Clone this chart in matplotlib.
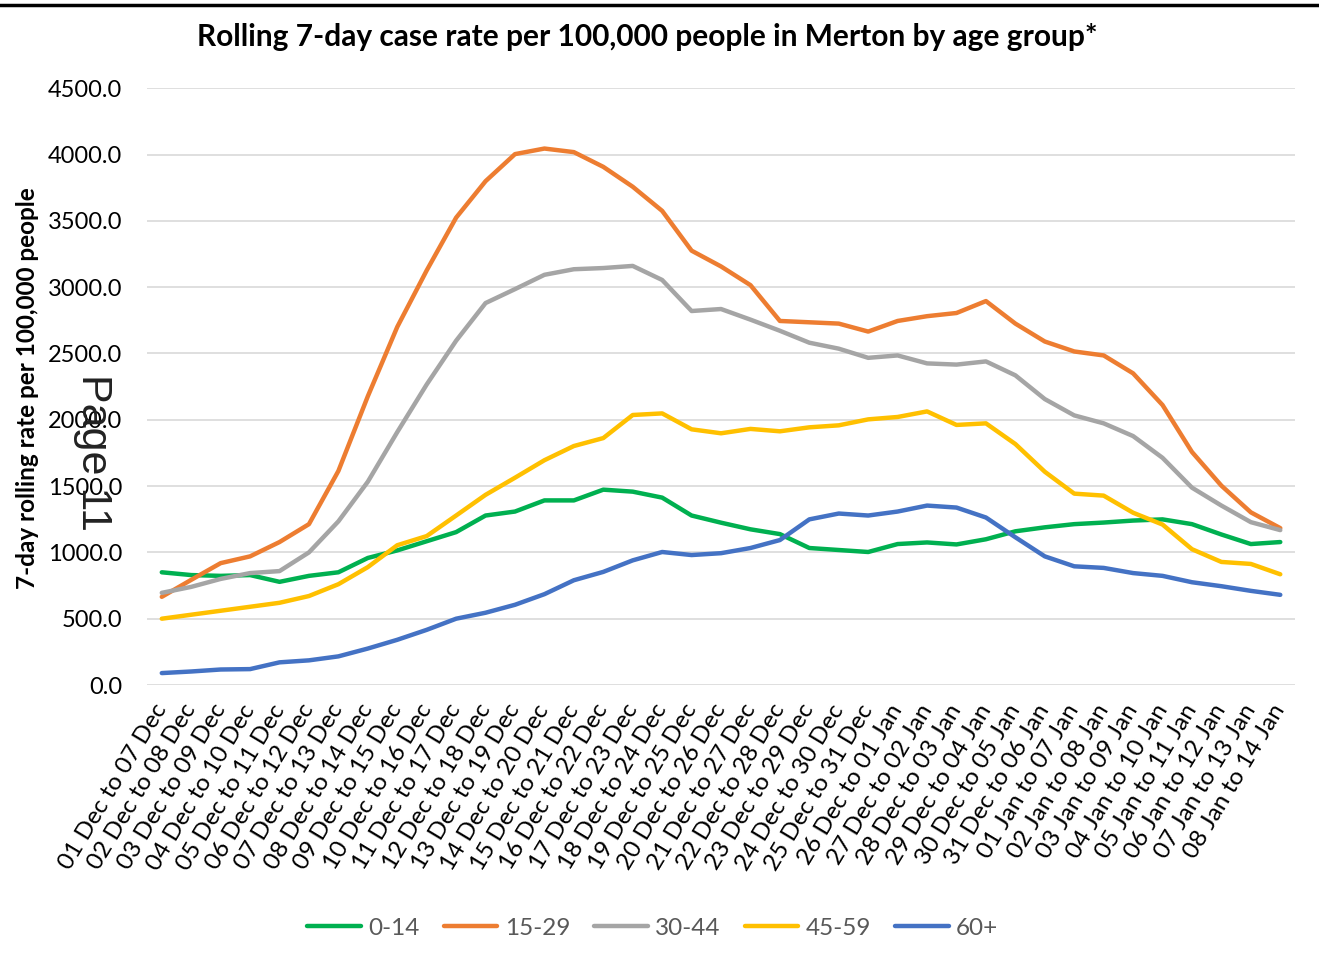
import matplotlib
matplotlib.use("Agg")
import matplotlib.pyplot as plt
from matplotlib.lines import Line2D
from matplotlib.ticker import FormatStrFormatter

# rolling 7-day windows
periods = [
    "01 Dec to 07 Dec", "02 Dec to 08 Dec", "03 Dec to 09 Dec", "04 Dec to 10 Dec",
    "05 Dec to 11 Dec", "06 Dec to 12 Dec", "07 Dec to 13 Dec", "08 Dec to 14 Dec",
    "09 Dec to 15 Dec", "10 Dec to 16 Dec", "11 Dec to 17 Dec", "12 Dec to 18 Dec",
    "13 Dec to 19 Dec", "14 Dec to 20 Dec", "15 Dec to 21 Dec", "16 Dec to 22 Dec",
    "17 Dec to 23 Dec", "18 Dec to 24 Dec", "19 Dec to 25 Dec", "20 Dec to 26 Dec",
    "21 Dec to 27 Dec", "22 Dec to 28 Dec", "23 Dec to 29 Dec", "24 Dec to 30 Dec",
    "25 Dec to 31 Dec", "26 Dec to 01 Jan", "27 Dec to 02 Jan", "28 Dec to 03 Jan",
    "29 Dec to 04 Jan", "30 Dec to 05 Jan", "31 Dec to 06 Jan", "01 Jan to 07 Jan",
    "02 Jan to 08 Jan", "03 Jan to 09 Jan", "04 Jan to 10 Jan", "05 Jan to 11 Jan",
    "06 Jan to 12 Jan", "07 Jan to 13 Jan", "08 Jan to 14 Jan",
]

age_0_14 = [850, 829, 823, 829, 778, 823, 850, 958, 1015, 1084, 1153, 1278, 1308,
            1392, 1392, 1473, 1458, 1413, 1278, 1224, 1174, 1138, 1033, 1018, 1003,
            1063, 1075, 1060, 1099, 1159, 1189, 1213, 1225, 1240, 1249, 1213, 1135,
            1063, 1078]
age_15_29 = [665, 793, 919, 970, 1078, 1213, 1614, 2177, 2700, 3126, 3524, 3799, 4003,
             4045, 4018, 3907, 3757, 3575, 3275, 3156, 3015, 2745, 2735, 2725, 2665,
             2745, 2781, 2805, 2895, 2725, 2590, 2515, 2485, 2350, 2111, 1757, 1503,
             1302, 1183]
age_30_44 = [695, 740, 800, 844, 859, 1000, 1234, 1533, 1907, 2266, 2596, 2880, 2985,
             3093, 3135, 3144, 3160, 3054, 2820, 2835, 2755, 2671, 2581, 2536, 2467,
             2485, 2425, 2416, 2440, 2335, 2156, 2033, 1973, 1877, 1713, 1488, 1353,
             1228, 1168]
age_45_59 = [500, 530, 560, 590, 620, 671, 760, 889, 1054, 1123, 1278, 1434, 1563,
             1695, 1802, 1862, 2036, 2048, 1928, 1898, 1931, 1913, 1943, 1958, 2003,
             2021, 2063, 1961, 1973, 1817, 1608, 1443, 1428, 1299, 1210, 1024, 928,
             913, 835]
age_60_plus = [90, 102, 117, 120, 171, 186, 216, 275, 341, 416, 500, 545, 605,
               685, 790, 853, 940, 1003, 980, 994, 1033, 1093, 1249, 1293, 1278,
               1308, 1353, 1338, 1263, 1114, 970, 895, 883, 844, 823, 775, 745,
               710, 680]

series = [
    ("0-14", age_0_14, "#00B050"),
    ("15-29", age_15_29, "#ED7D31"),
    ("30-44", age_30_44, "#A5A5A5"),
    ("45-59", age_45_59, "#FFC000"),
    ("60+", age_60_plus, "#4472C4"),
]

plt.rcParams['font.family'] = ['Lato', 'DejaVu Sans']

fig = plt.figure(figsize=(13.19, 9.8), dpi=100)
ax = fig.add_axes([0.1115, 0.301, 0.8703, 0.609])

x = list(range(len(periods)))
for name, vals, col in series:
    ax.plot(x, vals, color=col, lw=3.2, label=name, solid_capstyle='round')

ax.set_xlim(-0.5, len(periods) - 0.5)
ax.set_ylim(0, 4500)
ax.set_yticks([0, 500, 1000, 1500, 2000, 2500, 3000, 3500, 4000, 4500])
ax.yaxis.set_major_formatter(FormatStrFormatter('%.1f'))
ax.grid(axis='y', color='#D9D9D9', lw=1.2)
ax.set_axisbelow(True)
for s in ax.spines.values():
    s.set_visible(False)

ax.set_xticks(x)
ax.set_xticklabels(periods, rotation=59, ha='right', va='center',
                   rotation_mode='anchor', fontsize=17.5)
ax.tick_params(axis='x', length=0, pad=15)
ax.tick_params(axis='y', length=0, pad=18, labelsize=17)

ax.set_ylabel("7-day rolling rate per 100,000 people", fontsize=17.5, fontweight='bold')
ax.yaxis.set_label_coords(-0.094, 0.498)

fig.text(0.4905, 1 - 37 / 980, "Rolling 7-day case rate per 100,000 people in Merton by age group*",
         ha='center', va='center', fontsize=21.5, fontweight='bold')

# stray page stamp from the source document
fig.text(93 / 1319, 1 - 452 / 980, "Page 11", rotation=270, ha='center', va='center',
         fontsize=31, color='#222222', family=['Liberation Sans', 'DejaVu Sans'])

fig.legend(loc='center', bbox_to_anchor=(0.495, 1 - 928 / 980), ncol=5, frameon=False,
           fontsize=17.5, labelcolor='#595959', handlelength=2.2, handletextpad=0.3,
           columnspacing=1.0)

fig.add_artist(Line2D([0, 1], [1 - 5 / 980, 1 - 5 / 980], transform=fig.transFigure,
                      color='black', lw=2.5))

fig.savefig("out.png", dpi=100)
